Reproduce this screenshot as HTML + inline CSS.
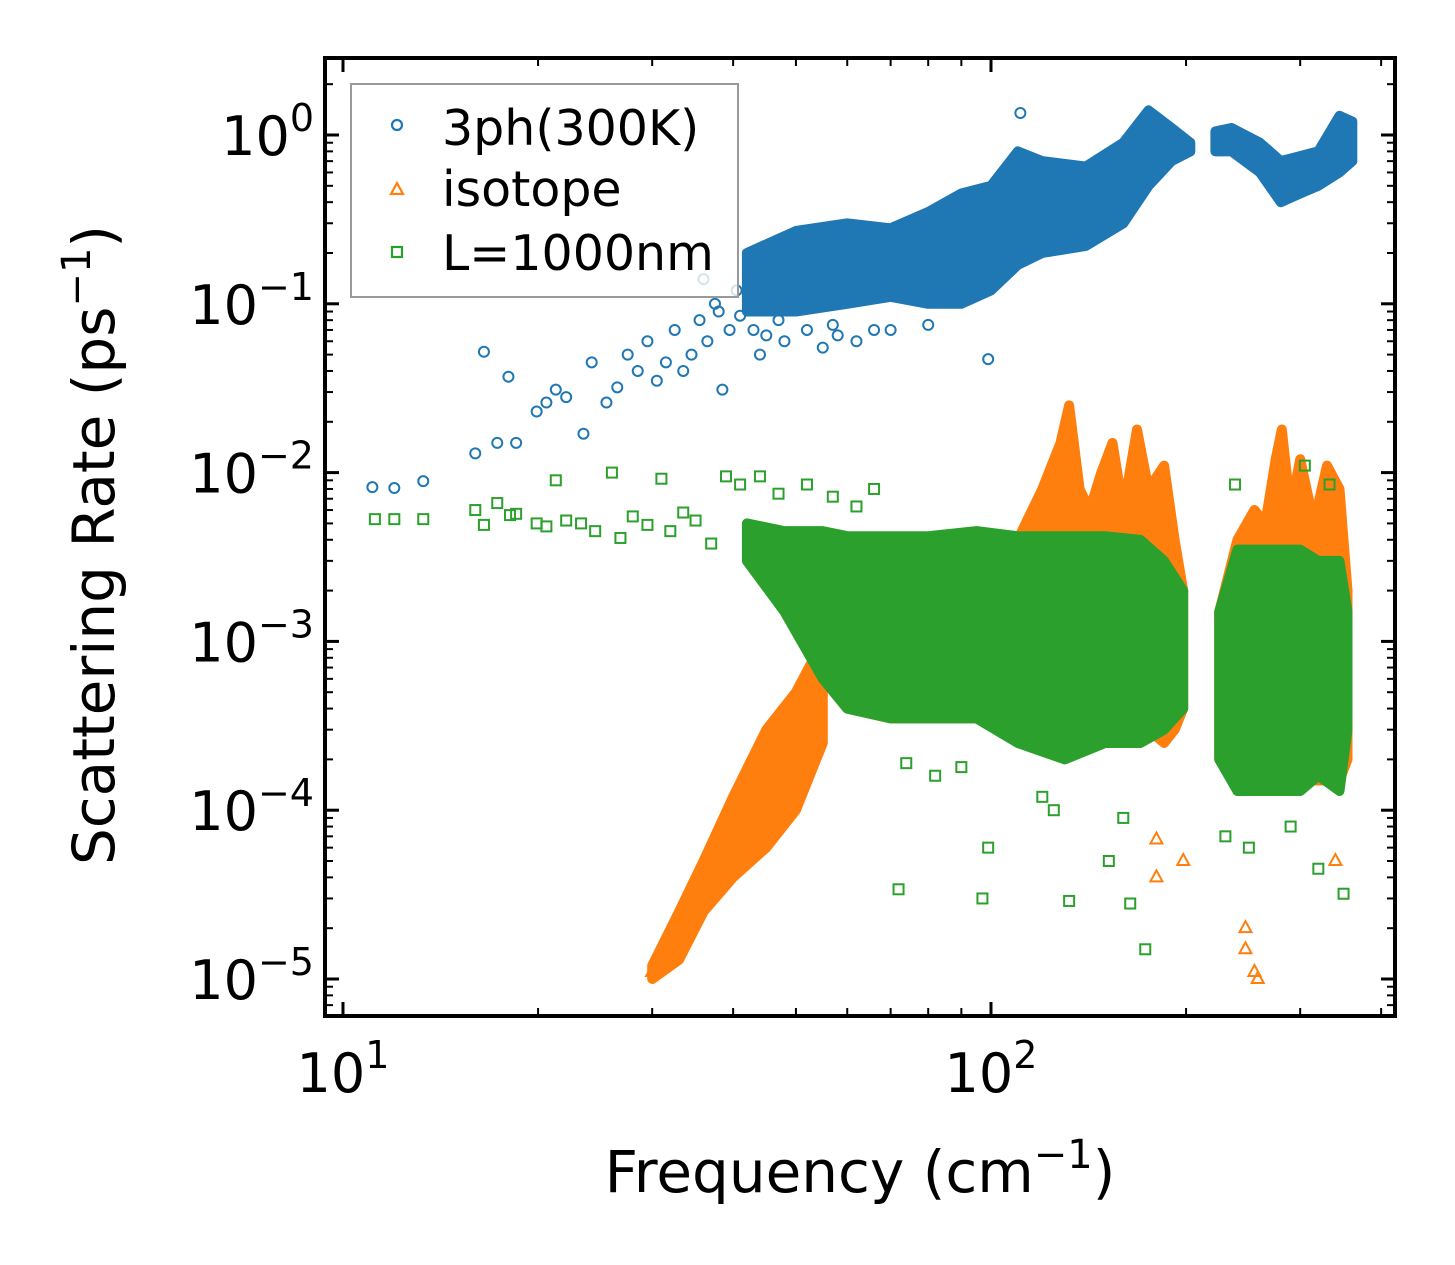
<!DOCTYPE html>
<html><head><meta charset="utf-8"><style>
body{margin:0;background:#fff}
svg{display:block;font-family:"DejaVu Sans","Liberation Sans",sans-serif}
</style></head><body>
<svg id="chart" width="1455" height="1265" viewBox="0 0 1455 1265" xmlns="http://www.w3.org/2000/svg">
<rect width="1455" height="1265" fill="#fff"/>
<g id="marks"></g>
<g id="axes"></g>
<text x="860" y="1192" font-size="58" text-anchor="middle">Frequency (cm<tspan dy="-24" font-size="40">−1</tspan><tspan dy="24">)</tspan></text>
<text transform="translate(114,545) rotate(-90)" font-size="58" text-anchor="middle">Scattering Rate (ps<tspan dy="-24" font-size="40">−1</tspan><tspan dy="24">)</tspan></text>
<g>
<rect x="351" y="84" width="387" height="213" fill="rgba(255,255,255,0.8)" stroke="#999" stroke-width="2"/>
<circle cx="397" cy="125" r="5" fill="none" stroke="#1f77b4" stroke-width="2.2"/>
<text x="442" y="145" font-size="49">3ph(300K)</text>
<path d="M391,194 L397,183 L403,194 Z" fill="none" stroke="#ff7f0e" stroke-width="2.2"/>
<text x="442" y="206" font-size="49">isotope</text>
<rect x="392" y="247" width="10" height="10" fill="none" stroke="#2ca02c" stroke-width="2.2"/>
<text x="442" y="270" font-size="49">L=1000nm</text>
</g>
</svg>
<script>
// ---- data ----
const blueBandF=[42,50,60,70,80,90,100,110,120,140,160,175,190,203];
const blueBandLo=[0.09,0.09,0.10,0.11,0.10,0.10,0.12,0.17,0.2,0.22,0.3,0.5,0.7,0.8];
const blueBandHi=[0.2,0.27,0.30,0.28,0.35,0.45,0.5,0.8,0.7,0.65,0.9,1.4,1.1,0.9];
const blueBand2F=[222,235,260,280,300,320,345,361];
const blueBand2Lo=[0.8,0.8,0.6,0.4,0.45,0.5,0.6,0.7];
const blueBand2Hi=[1.05,1.1,0.9,0.7,0.75,0.8,1.3,1.2];
const blueF=[11.1,12.0,13.3,16.0,16.5,17.3,18.0,18.5,19.9,20.6,21.3,22.1,23.5,24.2,25.5,26.5,27.5,28.5,29.5,30.5,31.5,32.5,33.5,34.5,35.5,36.5,37.5,38.5,39.5,40.5,44,48,55,62,70,80,99,111,58,66,38,36,41,43,45,47,52,57];
const blueV=[0.0082,0.0081,0.0089,0.013,0.052,0.015,0.037,0.015,0.023,0.026,0.031,0.028,0.017,0.045,0.026,0.032,0.05,0.04,0.06,0.035,0.045,0.07,0.04,0.05,0.08,0.06,0.1,0.031,0.07,0.12,0.05,0.06,0.055,0.06,0.07,0.075,0.047,1.35,0.065,0.07,0.09,0.14,0.085,0.07,0.065,0.08,0.07,0.075];
const orangeBandF=[55,60,70,80,95,110,120,128,132,137,142,148,154,160,168,175,185,192,198];
const orangeBandLo=[6e-4,4e-4,3.5e-4,3.5e-4,3.5e-4,3e-4,3e-4,3e-4,3e-4,3e-4,3e-4,3e-4,3e-4,3e-4,3e-4,3e-4,2.5e-4,3e-4,4e-4];
const orangeBandHi=[8e-4,1.5e-3,2e-3,2.5e-3,3e-3,4e-3,8e-3,1.5e-2,2.5e-2,8e-3,6e-3,1e-2,1.5e-2,6e-3,1.8e-2,8e-3,1.1e-2,4e-3,2e-3];
const orangeBand2F=[225,240,255,265,275,281,290,300,315,330,345,355];
const orangeBand2Lo=[2e-4,1.5e-4,1.5e-4,1.5e-4,1.5e-4,1.5e-4,1.5e-4,1.5e-4,1.5e-4,1.5e-4,1.5e-4,2e-4];
const orangeBand2Hi=[1.5e-3,4e-3,6e-3,5e-3,1.2e-2,1.8e-2,6e-3,1.2e-2,5e-3,1.1e-2,8e-3,2e-3];
const orangeTongueF=[30,33,36,40,45,50,55];
const orangeTongueLo=[1.0e-5,1.3e-5,2.5e-5,4e-5,6e-5,1e-4,2.5e-4];
const orangeTongueHi=[1.2e-5,2.5e-5,5e-5,1.2e-4,3e-4,5e-4,1e-3];
const orangeF=[180,180,198,247,255,247,340,258,30,31,32];
const orangeV=[6.7e-5,4e-5,5e-5,2e-5,1.1e-5,1.5e-5,5e-5,1.0e-5,1.1e-5,1.2e-5,1.5e-5];
const greenBandF=[42,48,55,60,70,80,95,110,130,150,170,185,198];
const greenBandLo=[3e-3,1.5e-3,6e-4,4e-4,3.5e-4,3.5e-4,3.5e-4,2.5e-4,2e-4,2.5e-4,2.5e-4,3e-4,4e-4];
const greenBandHi=[5e-3,4.5e-3,4.5e-3,4.2e-3,4.2e-3,4.2e-3,4.5e-3,4.2e-3,4.2e-3,4.2e-3,4e-3,3e-3,2e-3];
const greenBand2F=[225,240,260,280,300,320,345,355];
const greenBand2Lo=[2e-4,1.3e-4,1.3e-4,1.3e-4,1.3e-4,1.6e-4,1.3e-4,3e-4];
const greenBand2Hi=[1.5e-3,3.5e-3,3.5e-3,3.5e-3,3.5e-3,3e-3,3e-3,1.5e-3];
const greenF=[11.2,12,13.3,16,16.5,17.3,18.1,18.5,19.9,20.6,21.3,22.1,23.3,24.5,26,26.8,28,29.5,31,32,33.5,35,37,39,41,44,47,52,57,62,66,99,72,97,132,152,173,164,238,305,333,74,82,90,120,125,160,230,250,290,320,350];
const greenV=[0.0053,0.0053,0.0053,0.006,0.0049,0.0066,0.0056,0.0057,0.005,0.0048,0.009,0.0052,0.005,0.0045,0.01,0.0041,0.0055,0.0049,0.0092,0.0045,0.0058,0.0052,0.0038,0.0095,0.0085,0.0095,0.0075,0.0085,0.0072,0.0063,0.008,6e-5,3.4e-5,3e-5,2.9e-5,5e-5,1.5e-5,2.8e-5,8.5e-3,0.011,0.0085,1.9e-4,1.6e-4,1.8e-4,1.2e-4,1.0e-4,9e-5,7e-5,6e-5,8e-5,4.5e-5,3.2e-5];
const xTickVals=[10,100];
const xTickExp=["1","2"];
const yTickVals=[1,0.1,0.01,0.001,1e-4,1e-5];
const yTickExp=["0","−1","−2","−3","−4","−5"];
// ---- axes ----
const L=325,R=1395,T=58,B=1016;
function X(f){return 343+648*(Math.log10(f)-1);}
function Y(v){return 135-168.8*Math.log10(v);}
const NS="http://www.w3.org/2000/svg";
const marks=document.getElementById('marks'),axes=document.getElementById('axes');
function mk(tag,attrs,parent){const e=document.createElementNS(NS,tag);for(const k in attrs)e.setAttribute(k,attrs[k]);parent.appendChild(e);return e;}
const clip=mk('clipPath',{id:'cp'},marks);mk('rect',{x:L,y:T,width:R-L,height:B-T},clip);
const g=mk('g',{'clip-path':'url(#cp)'},marks);
function band(F,Lo,Hi,color,name){
  let pts=F.map((f,i)=>X(f).toFixed(1)+','+Y(Hi[i]).toFixed(1));
  for(let i=F.length-1;i>=0;i--)pts.push(X(F[i]).toFixed(1)+','+Y(Lo[i]).toFixed(1));
  const p=mk('polygon',{points:pts.join(' '),fill:color,stroke:color,'stroke-width':10,'stroke-linejoin':'round'},g);
  
  
}
function pts(F,V,color,shape,name){
  F.forEach((f,i)=>{const x=X(f),y=Y(V[i]);let e;
    if(shape==='c')e=mk('circle',{cx:x,cy:y,r:5,fill:'none',stroke:color,'stroke-width':2},g);
    else if(shape==='t')e=mk('path',{d:`M${x-6},${y+4}L${x},${y-7}L${x+6},${y+4}Z`,fill:'none',stroke:color,'stroke-width':2},g);
    else e=mk('rect',{x:x-5,y:y-5,width:10,height:10,fill:'none',stroke:color,'stroke-width':2},g);
    
    
  });
}
band(blueBandF,blueBandLo,blueBandHi,'#1f77b4','blue-band-1');
band(blueBand2F,blueBand2Lo,blueBand2Hi,'#1f77b4','blue-band-2');
pts(blueF,blueV,'#1f77b4','c','3ph-point');
band(orangeBandF,orangeBandLo,orangeBandHi,'#ff7f0e','isotope-band-1');
band(orangeBand2F,orangeBand2Lo,orangeBand2Hi,'#ff7f0e','isotope-band-2');
band(orangeTongueF,orangeTongueLo,orangeTongueHi,'#ff7f0e','isotope-low-band');
pts(orangeF,orangeV,'#ff7f0e','t','isotope-point');
band(greenBandF,greenBandLo,greenBandHi,'#2ca02c','boundary-band-1');
band(greenBand2F,greenBand2Lo,greenBand2Hi,'#2ca02c','boundary-band-2');
pts(greenF,greenV,'#2ca02c','s','boundary-point');
// frame
const fr=mk('rect',{x:L,y:T,width:R-L,height:B-T,fill:'none',stroke:'#000','stroke-width':4},axes);


function line(x1,y1,x2,y2,w){mk('line',{x1,y1,x2,y2,stroke:'#000','stroke-width':w},axes);}
for(let d=1;d<=400;d*=10){for(let m=1;m<10;m++){const f=d*m;if(f<9.4||f>420)continue;const x=X(f);const maj=(m===1);const len=maj?14:8;
  line(x,B,x,B-len,maj?3:2);line(x,T,x,T+len,maj?3:2);}}
xTickVals.forEach((v,i)=>{const t=mk('text',{x:X(v),y:1092,'font-size':54,'text-anchor':'middle'},axes);t.textContent='10';
  const s=mk('tspan',{dy:-24,'font-size':38},t);s.textContent=xTickExp[i];
  
  });
for(let e=-6;e<=0;e++){for(let m=1;m<10;m++){const v=m*Math.pow(10,e);const y=Y(v);if(y<T||y>B)continue;const maj=(m===1);const len=maj?14:8;
  line(L,y,L+len,y,maj?3:2);line(R,y,R-len,y,maj?3:2);}}
yTickVals.forEach((v,i)=>{const t=mk('text',{x:314,y:Y(v)+20,'font-size':54,'text-anchor':'end'},axes);
  const a=mk('tspan',{},t);a.textContent='10';
  const s=mk('tspan',{dy:-24,'font-size':38},t);s.textContent=yTickExp[i];
  
  });
</script>
</body></html>
